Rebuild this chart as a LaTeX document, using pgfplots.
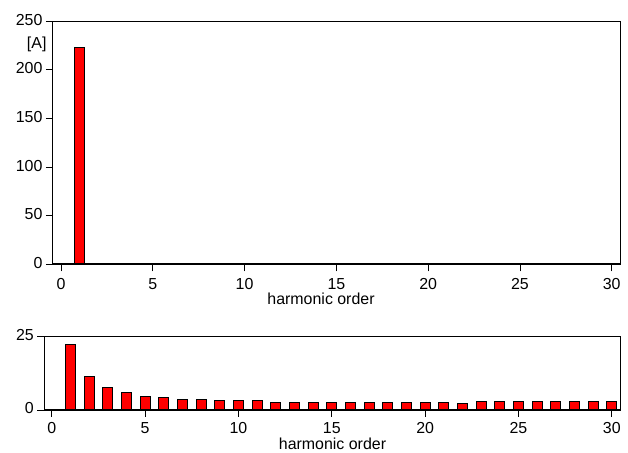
\documentclass[border=0pt]{standalone}
\usepackage{pgfplots}
\pgfplotsset{compat=1.18}
\usepackage{fontspec}
\setmainfont{Liberation Sans}
\begin{document}
\begin{tikzpicture}
\path[use as bounding box] (0,0) rectangle (628bp,453bp);
\pgfplotsset{
  hbase/.style={
    scale only axis,
    anchor=south west,
    /pgf/number format/assume math mode=true,
    ticklabel style={font=\fontsize{16}{19}\selectfont},
    xticklabel style={inner sep=1bp, yshift=-6.3bp},
    yticklabel style={yshift=1.5bp},
    label style={font=\fontsize{16}{19}\selectfont},
    tick align=outside,
    xtick pos=bottom, ytick pos=left,
    major tick length=7bp,
    tick style={black, line width=0.9bp},
    axis line style={line width=1bp},
    xtick={0,5,10,15,20,25,30},
    ybar, bar width=0.54,
    xlabel={harmonic order},
    after end axis/.code={\draw[line width=2bp] (rel axis cs:0,0) -- (rel axis cs:1,0);},
  },
  hbar/.style={fill=red, draw=black, line width=1bp},
}
\begin{axis}[hbase,
  at={(53bp,188.7bp)}, width=567bp, height=243bp,
  xmin=-0.436, xmax=30.45, ymin=0, ymax=250,
  ytick={0,50,100,150,200,250},
  xlabel style={at={(axis description cs:0.4727,0)}, anchor=base, inner sep=0pt, yshift=-40.5bp},
  ylabel={[A]},
  ylabel style={rotate=-90, at={(axis description cs:0,0.907)}, anchor=east, xshift=-3bp},
]
\addplot[hbar] coordinates {(1,223)};
\end{axis}
\begin{axis}[hbase,
  at={(44.3bp,43bp)}, width=575.7bp, height=73.3bp,
  xmin=-0.40, xmax=30.44, ymin=0, ymax=25,
  ytick={0,25},
  xticklabel style={yshift=2bp},
  xlabel style={at={(axis description cs:0.5006,0)}, anchor=base, inner sep=0pt, yshift=-39bp},
]
\addplot[hbar] coordinates {
(1,22.3) (2,11.4) (3,7.7) (4,6.1) (5,4.5) (6,4.1) (7,3.5) (8,3.5) (9,3.1) (10,3.1)
(11,3.1) (12,2.5) (13,2.5) (14,2.5) (15,2.5) (16,2.5) (17,2.5) (18,2.5) (19,2.5) (20,2.5)
(21,2.5) (22,2.3) (23,2.9) (24,2.9) (25,2.9) (26,2.9) (27,2.9) (28,2.9) (29,2.9) (30,2.9)
};
\end{axis}
\end{tikzpicture}
\end{document}
